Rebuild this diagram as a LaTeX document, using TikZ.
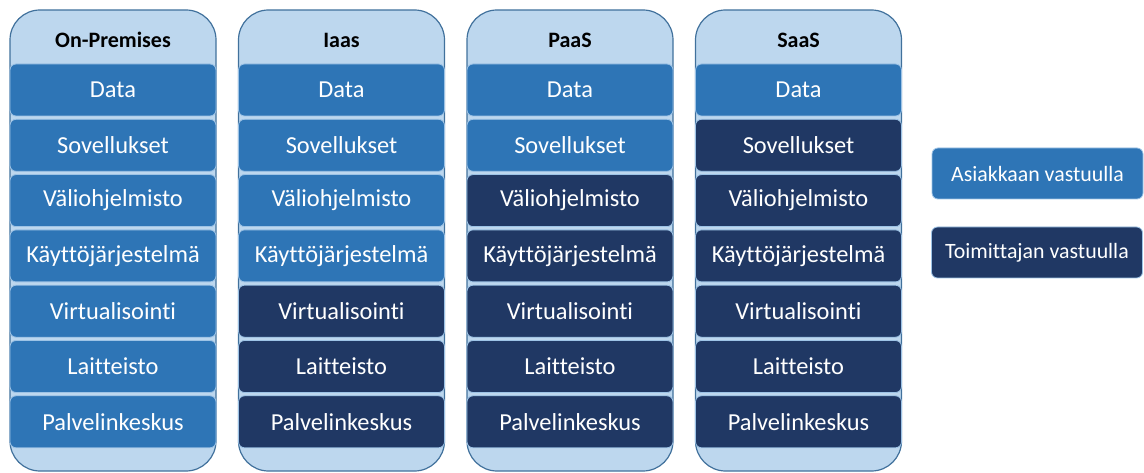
\documentclass[tikz,border=0pt]{standalone}
\usepackage{fontspec}
\setmainfont{Carlito}[Ligatures=NoCommon]
\definecolor{colfill}{HTML}{BDD7EE}
\definecolor{colline}{HTML}{41719C}
\definecolor{custblue}{HTML}{2E75B6}
\definecolor{vendnavy}{HTML}{203864}
\definecolor{edgelight}{HTML}{9DC3E6}
\begin{document}
\begin{tikzpicture}[x=0.75pt,y=-0.75pt,
  column/.style={draw=colline, line width=0.9pt, fill=colfill, rounded corners=22.5pt,
    minimum width=154.5pt, minimum height=345.75pt, inner sep=0pt},
  layer/.style={draw=edgelight, line width=0.6pt, rounded corners=4.5pt,
    minimum width=154.5pt, minimum height=39pt, inner sep=0pt, text=white,
    font=\fontsize{18.3}{20}\selectfont},
  cust/.style={layer, fill=custblue},
  vend/.style={layer, fill=vendnavy},
  coltitle/.style={font=\fontsize{16.5}{18}\selectfont\bfseries, text=black, inner sep=0pt},
  legendbox/.style={draw=edgelight, line width=0.6pt, rounded corners=4.5pt,
    minimum width=158.25pt, minimum height=38.25pt, inner sep=0pt, text=white,
    font=\fontsize{16.4}{18}\selectfont}
]
\useasboundingbox (0,0) rectangle (1144,473);

% four service models; \n = number of layers the customer manages
\foreach \i/\x/\name/\n in {1/113/On-Premises/7, 2/341.5/Iaas/4, 3/570/PaaS/2, 4/798.5/SaaS/1}{
  \node[column] (col\i) at (\x,240.5) {};
  \node[coltitle] (head\i) at (\x,40) {\name};
  \foreach \r/\lbl in {0/Data, 1/Sovellukset, 2/Väliohjelmisto, 3/Käyttöjärjestelmä,
                       4/Virtualisointi, 5/Laitteisto, 6/Palvelinkeskus}{
    \ifnum\r<\n \def\sty{cust}\else\def\sty{vend}\fi
    \node[\sty] (layer\i-\r) at (\x,{90+55.3*\r}) {\lbl};
  }
}

% legend
\node[legendbox, fill=custblue] (legcust) at (1037.5,173.5) {Asiakkaan vastuulla};
\node[legendbox, fill=vendnavy] (legvend) at (1037,252.5) {Toimittajan vastuulla};
\end{tikzpicture}
\end{document}
